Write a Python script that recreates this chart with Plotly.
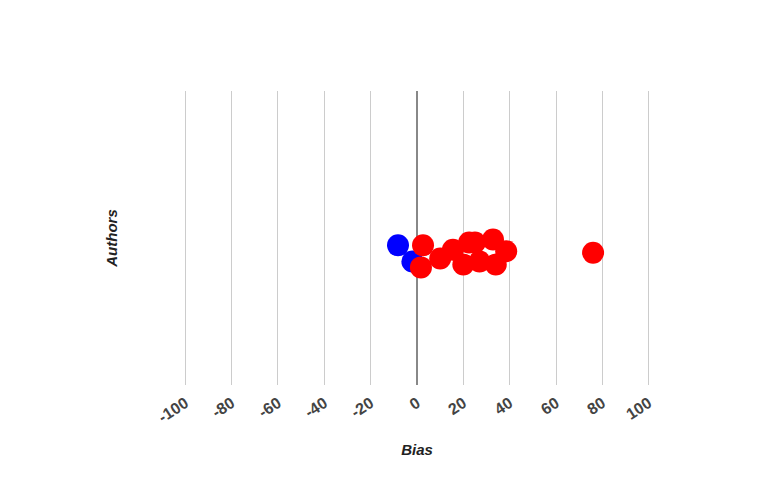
import plotly.graph_objects as go

# bias scores per author, split by group (y is only a jitter offset)
blue_bias = [-8.2, -2.0]
blue_jitter = [-0.05, -0.16]

red_bias = [2.6, 1.7, 10.0, 15.5, 20.0, 22.5, 27.0, 25.0, 32.8, 34.0, 38.5, 76.0]
red_jitter = [-0.05, -0.2, -0.14, -0.08, -0.18, -0.03, -0.16, -0.03, -0.01, -0.18, -0.09, -0.1]

x_ticks = [-100, -80, -60, -40, -20, 0, 20, 40, 60, 80, 100]
x_labels = ["-100", "-80", "-60", "-40", "-20", "0", "20", "40", "60", "80", "100"]

fig = go.Figure()
fig.add_trace(go.Scatter(x=blue_bias, y=blue_jitter, mode="markers",
                         marker=dict(color="#0000ff", size=22), showlegend=False))
fig.add_trace(go.Scatter(x=red_bias, y=red_jitter, mode="markers",
                         marker=dict(color="#ff0000", size=22), showlegend=False))

# page body has an 8px margin, so the plot is pulled up/left by that much
fig.update_layout(
    width=760, height=498,
    margin=dict(l=175, r=117, t=83, b=121, autoexpand=False),
    plot_bgcolor="white", paper_bgcolor="white",
    font=dict(family="Liberation Sans, Arial", color="#444"),
    xaxis=dict(
        range=[-101, 101], tickvals=x_ticks, ticktext=x_labels, tickangle=-33,
        showgrid=True, gridcolor="#cccccc", gridwidth=1,
        zeroline=True, zerolinecolor="#888888", zerolinewidth=2,
        tickfont=dict(size=16, color="#444", weight="bold"),
        ticklabelstandoff=5,
        title=dict(text="<b><i>Bias</i></b>", font=dict(size=15, color="#222"), standoff=19),
        automargin=False,
    ),
    yaxis=dict(
        range=[-1, 1], showticklabels=False, showgrid=False, zeroline=False,
        title=dict(text="<b><i>Authors</i></b>", font=dict(size=15, color="#222"), standoff=60),
        automargin=False,
    ),
)

fig.write_html("out.html")
